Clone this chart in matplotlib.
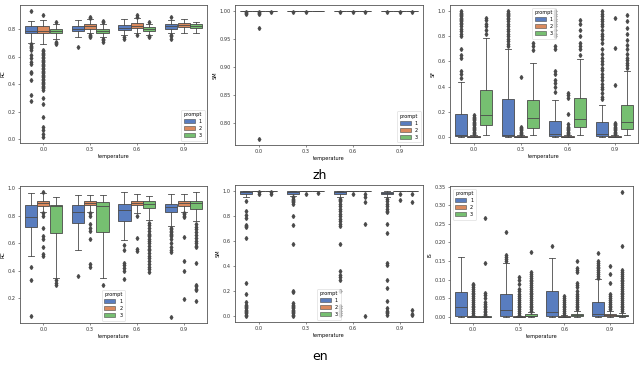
import numpy as np
import matplotlib.pyplot as plt
from matplotlib.patches import Patch

temps = ["0.0", "0.3", "0.6", "0.9"]
prompts = ["1", "2", "3"]
colors = ["#597dbf", "#da8a5e", "#76bf71"]

# --- zh / RC ---
zh_rc_q1 = [[0.775, 0.77, 0.77], [0.785, 0.80, 0.77], [0.795, 0.81, 0.79], [0.80, 0.815, 0.81]]
zh_rc_med = [[0.79, 0.79, 0.785], [0.80, 0.82, 0.785], [0.81, 0.825, 0.805], [0.82, 0.83, 0.825]]
zh_rc_q3 = [[0.82, 0.82, 0.80], [0.82, 0.84, 0.805], [0.83, 0.845, 0.815], [0.835, 0.845, 0.835]]
zh_rc_lo = [[0.70, 0.69, 0.73], [0.74, 0.77, 0.74], [0.76, 0.77, 0.76], [0.77, 0.775, 0.775]]
zh_rc_hi = [[0.86, 0.87, 0.835], [0.87, 0.875, 0.835], [0.875, 0.88, 0.84], [0.87, 0.875, 0.855]]
zh_rc_fl = [
    [[0.93, 0.69, 0.68, 0.67, 0.66, 0.65, 0.61, 0.59, 0.56, 0.55, 0.49, 0.48, 0.43, 0.32, 0.28],
     [0.90, 0.65, 0.64, 0.63, 0.62, 0.61, 0.60, 0.59, 0.58, 0.57, 0.56, 0.55, 0.54, 0.53, 0.52,
      0.51, 0.50, 0.49, 0.48, 0.47, 0.46, 0.45, 0.44, 0.43, 0.42, 0.41, 0.40, 0.39, 0.38, 0.37,
      0.36, 0.30, 0.26, 0.16, 0.09, 0.07, 0.04, 0.02],
     [0.85, 0.71, 0.70, 0.69]],
    [[0.67], [0.89, 0.88, 0.76, 0.75, 0.74], [0.86, 0.85, 0.73, 0.72, 0.71]],
    [[0.74, 0.73], [0.89, 0.90, 0.76], [0.855, 0.75, 0.74]],
    [[0.89, 0.76, 0.75, 0.73], [], []],
]

# --- zh / SM ---
zh_sm_q1 = [[1.0] * 3] * 4
zh_sm_med = [[1.0] * 3] * 4
zh_sm_q3 = [[1.0] * 3] * 4
zh_sm_lo = [[1.0] * 3] * 4
zh_sm_hi = [[1.0] * 3] * 4
zh_sm_fl = [
    [[0.998, 0.997, 0.996], [0.999, 0.997, 0.995, 0.971, 0.772], [0.999]],
    [[0.999], [0.999], []],
    [[0.999], [0.999], [0.999]],
    [[0.999], [0.999], [0.999]],
]

# --- zh / SF ---
zh_sf_q1 = [[0.005, 0.0, 0.09], [0.005, 0.0, 0.07], [0.005, 0.0, 0.08], [0.005, 0.0, 0.065]]
zh_sf_med = [[0.01, 0.0, 0.17], [0.015, 0.0, 0.15], [0.02, 0.0, 0.14], [0.02, 0.0, 0.12]]
zh_sf_q3 = [[0.185, 0.005, 0.375], [0.30, 0.005, 0.295], [0.125, 0.005, 0.31], [0.12, 0.005, 0.25]]
zh_sf_lo = [[0.0, 0.0, 0.01], [0.0, 0.0, 0.01], [0.0, 0.0, 0.01], [0.0, 0.0, 0.01]]
zh_sf_hi = [[0.44, 0.01, 0.79], [0.70, 0.01, 0.59], [0.295, 0.01, 0.62], [0.25, 0.01, 0.52]]
zh_sf_fl = [
    [[0.47, 0.50, 0.52, 0.63, 0.65, 0.70, 0.80, 0.82, 0.84, 0.86, 0.88, 0.90, 0.91, 0.92, 0.93,
      0.94, 0.95, 0.96, 0.97, 0.98, 0.99, 1.0],
     [0.02, 0.03, 0.04, 0.05, 0.06, 0.07, 0.08, 0.09, 0.10, 0.11, 0.12, 0.13, 0.14, 0.15, 0.16, 0.17],
     [0.82, 0.85, 0.88, 0.90, 0.93, 0.95]],
    [[0.72, 0.74, 0.76, 0.78, 0.80, 0.82, 0.84, 0.86, 0.88, 0.90, 0.92, 0.94, 0.95, 0.96, 0.97,
      0.98, 0.99, 1.0],
     [0.02, 0.03, 0.04, 0.05, 0.06, 0.07, 0.08, 0.48],
     [0.69, 0.72, 0.75]],
    [[0.36, 0.40, 0.43, 0.45, 0.50, 0.52, 0.70, 0.72, 0.80, 0.82, 0.85, 0.88, 0.90, 0.92, 0.94,
      0.96, 0.98, 1.0],
     [0.02, 0.03, 0.04, 0.05, 0.06, 0.07, 0.08, 0.10, 0.18, 0.31, 0.33, 0.35],
     [0.65, 0.70, 0.72, 0.75, 0.80, 0.85, 0.90, 0.93]],
    [[0.30, 0.32, 0.35, 0.38, 0.40, 0.42, 0.45, 0.48, 0.50, 0.53, 0.55, 0.58, 0.60, 0.63, 0.66,
      0.70, 0.75, 0.78, 0.80, 0.82, 0.85, 0.88, 0.90, 0.92, 0.94, 0.96, 0.98, 1.0],
     [0.02, 0.03, 0.04, 0.05, 0.06, 0.07, 0.08, 0.09, 0.10, 0.11, 0.41, 0.71, 0.95],
     [0.55, 0.57, 0.59, 0.61, 0.63, 0.66, 0.70, 0.73, 0.77, 0.82, 0.87, 0.92, 0.97]],
]

# --- en / RC ---
en_rc_q1 = [[0.72, 0.872, 0.675], [0.75, 0.875, 0.68], [0.765, 0.875, 0.855], [0.826, 0.867, 0.85]]
en_rc_med = [[0.79, 0.89, 0.867], [0.824, 0.89, 0.872], [0.84, 0.89, 0.887], [0.863, 0.89, 0.89]]
en_rc_q3 = [[0.88, 0.904, 0.88], [0.88, 0.905, 0.896], [0.887, 0.905, 0.91], [0.887, 0.91, 0.91]]
en_rc_lo = [[0.505, 0.83, 0.35], [0.554, 0.83, 0.35], [0.627, 0.82, 0.77], [0.723, 0.83, 0.76]]
en_rc_hi = [[0.964, 0.964, 0.935], [0.952, 0.952, 0.952], [0.969, 0.96, 0.945], [0.955, 0.96, 0.969]]
en_rc_fl = [
    [[0.426, 0.33, 0.072], [0.97, 0.82, 0.80, 0.708, 0.65, 0.63, 0.57, 0.525, 0.51], [0.335, 0.313, 0.294]],
    [[0.361], [0.82, 0.80, 0.74, 0.71, 0.69, 0.63, 0.453, 0.43], [0.294]],
    [[0.585, 0.55, 0.458, 0.44, 0.42, 0.40, 0.342], [0.80, 0.64, 0.547, 0.555],
     [0.75, 0.73, 0.71, 0.69, 0.67, 0.66, 0.65, 0.63, 0.62, 0.60, 0.58, 0.56, 0.55, 0.53, 0.51,
      0.49, 0.47, 0.45, 0.43, 0.41, 0.39]],
    [[0.71, 0.70, 0.69, 0.68, 0.67, 0.66, 0.65, 0.63, 0.60, 0.57, 0.55, 0.54, 0.067],
     [0.82, 0.81, 0.80, 0.79, 0.646, 0.47, 0.40, 0.193],
     [0.74, 0.72, 0.70, 0.68, 0.66, 0.64, 0.62, 0.60, 0.58, 0.57, 0.458, 0.30, 0.29, 0.27, 0.26, 0.18]],
]

# --- en / SM ---
en_sm_q1 = [[0.979, 1.0, 1.0], [0.975, 1.0, 1.0], [0.975, 1.0, 1.0], [0.975, 1.0, 1.0]]
en_sm_med = [[0.992, 1.0, 1.0], [0.99, 1.0, 1.0], [0.99, 1.0, 1.0], [0.985, 1.0, 1.0]]
en_sm_q3 = [[1.0, 1.0, 1.0], [1.0, 1.0, 1.0], [1.0, 1.0, 1.0], [0.995, 1.0, 1.0]]
en_sm_lo = [[0.957, 1.0, 1.0], [0.96, 1.0, 1.0], [0.955, 1.0, 1.0], [0.955, 1.0, 1.0]]
en_sm_hi = [[1.0, 1.0, 1.0], [1.0, 1.0, 1.0], [1.0, 1.0, 1.0], [1.0, 1.0, 1.0]]
en_sm_fl = [
    [[0.925, 0.838, 0.81, 0.785, 0.731, 0.72, 0.71, 0.625, 0.266, 0.176, 0.11, 0.09, 0.08, 0.07,
      0.06, 0.05, 0.04, 0.03, 0.02, 0.01, 0.0],
     [0.99, 0.98], [0.99, 0.975]],
    [[0.95, 0.94, 0.93, 0.92, 0.91, 0.90, 0.803, 0.726, 0.58, 0.20, 0.19, 0.10, 0.09, 0.08, 0.07,
      0.06, 0.05, 0.04, 0.03, 0.02, 0.01, 0.0],
     [0.98], [0.985]],
    [[0.94, 0.93, 0.92, 0.90, 0.88, 0.86, 0.84, 0.82, 0.80, 0.78, 0.76, 0.74, 0.72, 0.574, 0.359,
      0.33, 0.31, 0.29, 0.20, 0.08, 0.06, 0.04, 0.02, 0.01],
     [0.98], [0.98, 0.95, 0.912, 0.734, 0.0]],
    [[0.94, 0.92, 0.90, 0.88, 0.86, 0.84, 0.83, 0.739, 0.665, 0.426, 0.41, 0.287, 0.226, 0.12,
      0.06, 0.04, 0.03, 0.02, 0.01],
     [0.98, 0.93], [0.98, 0.912, 0.048, 0.016, 0.005]],
]

# --- en / IS ---
en_is_q1 = [[0.003, 0.0, 0.0], [0.003, 0.0, 0.001], [0.002, 0.0, 0.002], [0.002, 0.002, 0.001]]
en_is_med = [[0.025, 0.0, 0.0], [0.018, 0.0, 0.002], [0.012, 0.0, 0.004], [0.007, 0.004, 0.003]]
en_is_q3 = [[0.067, 0.001, 0.001], [0.061, 0.001, 0.007], [0.07, 0.002, 0.008], [0.041, 0.008, 0.005]]
en_is_lo = [[0.0, 0.0, 0.0], [0.0, 0.0, 0.0], [0.0, 0.0, 0.0], [0.0, 0.0, 0.0]]
en_is_hi = [[0.16, 0.002, 0.002], [0.145, 0.002, 0.012], [0.157, 0.004, 0.015], [0.101, 0.015, 0.01]]
en_is_fl = [
    [[],
     [0.005, 0.01, 0.015, 0.02, 0.025, 0.03, 0.035, 0.04, 0.045, 0.05, 0.055, 0.06, 0.065, 0.07,
      0.075, 0.08, 0.085, 0.088],
     [0.004, 0.008, 0.012, 0.016, 0.02, 0.025, 0.03, 0.035, 0.04, 0.05, 0.058, 0.065, 0.145, 0.267]],
    [[0.15, 0.155, 0.16, 0.165, 0.227],
     [0.005, 0.01, 0.015, 0.02, 0.025, 0.03, 0.035, 0.04, 0.045, 0.05, 0.055, 0.06, 0.068, 0.075,
      0.088, 0.098, 0.107],
     [0.015, 0.02, 0.025, 0.03, 0.035, 0.04, 0.045, 0.05, 0.055, 0.06, 0.065, 0.07, 0.075, 0.08,
      0.085, 0.09, 0.095, 0.10, 0.105, 0.11, 0.115, 0.12, 0.173]],
    [[0.191],
     [0.005, 0.01, 0.015, 0.02, 0.025, 0.03, 0.035, 0.04, 0.045, 0.05, 0.055],
     [0.02, 0.025, 0.03, 0.035, 0.04, 0.045, 0.05, 0.055, 0.06, 0.07, 0.08, 0.085, 0.09, 0.12,
      0.125, 0.13, 0.151]],
    [[0.105, 0.11, 0.115, 0.12, 0.125, 0.13, 0.135, 0.14, 0.145, 0.15, 0.171],
     [0.02, 0.025, 0.03, 0.035, 0.04, 0.045, 0.05, 0.055, 0.06, 0.09, 0.115, 0.137],
     [0.015, 0.02, 0.025, 0.03, 0.035, 0.04, 0.045, 0.05, 0.055, 0.06, 0.065, 0.07, 0.075, 0.08,
      0.085, 0.09, 0.095, 0.10, 0.105, 0.11, 0.115, 0.12, 0.125, 0.191, 0.335]],
]

GRAY = "#4a4a4a"
FS = 3.6


def draw_panel(ax, q1, med, q3, lo, hi, fl, ylabel, legend_loc):
    width = 0.8 / 3
    for i in range(len(temps)):
        for j in range(len(prompts)):
            st = [{"q1": q1[i][j], "med": med[i][j], "q3": q3[i][j],
                   "whislo": lo[i][j], "whishi": hi[i][j], "fliers": fl[i][j]}]
            pos = i + (j - 1) * width
            ax.bxp(st, positions=[pos], widths=width * 0.98, patch_artist=True,
                   manage_ticks=False,
                   boxprops=dict(facecolor=colors[j], edgecolor=GRAY, linewidth=0.6),
                   medianprops=dict(color=GRAY, linewidth=0.6),
                   whiskerprops=dict(color=GRAY, linewidth=0.6),
                   capprops=dict(color=GRAY, linewidth=0.6),
                   flierprops=dict(marker="d", markersize=2.0, markerfacecolor=GRAY,
                                   markeredgecolor=GRAY, linestyle="none"))
    ax.set_xlim(-0.5, len(temps) - 0.5)
    ax.set_xticks(range(len(temps)))
    ax.set_xticklabels(temps)
    ax.set_xlabel("temperature", fontsize=FS, labelpad=1.5)
    ax.set_ylabel(ylabel, fontsize=FS, labelpad=1.5)
    ax.tick_params(labelsize=FS, length=1.5, width=0.4, pad=1.5, colors="#333333")
    for s in ax.spines.values():
        s.set_linewidth(0.6)
        s.set_color("#555555")
    handles = [Patch(facecolor=c, edgecolor=GRAY, linewidth=0.4) for c in colors]
    leg = ax.legend(handles, prompts, title="prompt", loc=legend_loc, fontsize=FS,
                    title_fontsize=FS, handlelength=2.2, handleheight=0.9,
                    borderpad=0.5, labelspacing=0.4, frameon=True)
    leg.get_frame().set_linewidth(0.4)


fig = plt.figure(figsize=(6.4, 3.67), dpi=100)
W, H = 640, 367


def add_ax(x0, x1, y0, y1):
    return fig.add_axes([x0 / W, (H - y1) / H, (x1 - x0) / W, (y1 - y0) / H])


ax = add_ax(20, 207, 5, 143)
draw_panel(ax, zh_rc_q1, zh_rc_med, zh_rc_q3, zh_rc_lo, zh_rc_hi, zh_rc_fl, "RC", "lower right")
ax = add_ax(235, 423, 5, 145)
draw_panel(ax, zh_sm_q1, zh_sm_med, zh_sm_q3, zh_sm_lo, zh_sm_hi, zh_sm_fl, "SM", "lower right")
ax = add_ax(450, 638, 5, 143)
draw_panel(ax, zh_sf_q1, zh_sf_med, zh_sf_q3, zh_sf_lo, zh_sf_hi, zh_sf_fl, "SF", "upper center")
ax = add_ax(20, 207, 186, 323)
draw_panel(ax, en_rc_q1, en_rc_med, en_rc_q3, en_rc_lo, en_rc_hi, en_rc_fl, "RC", "lower center")
ax = add_ax(235, 423, 185, 322)
draw_panel(ax, en_sm_q1, en_sm_med, en_sm_q3, en_sm_lo, en_sm_hi, en_sm_fl, "SM", "lower center")
ax = add_ax(450, 633, 186, 323)
draw_panel(ax, en_is_q1, en_is_med, en_is_q3, en_is_lo, en_is_hi, en_is_fl, "IS", "upper left")

fig.text(0.5, 1 - 175 / H, "zh", ha="center", va="center", fontsize=9)
fig.text(0.5, 1 - 357 / H, "en", ha="center", va="center", fontsize=9)

fig.savefig("out.png", dpi=100)
